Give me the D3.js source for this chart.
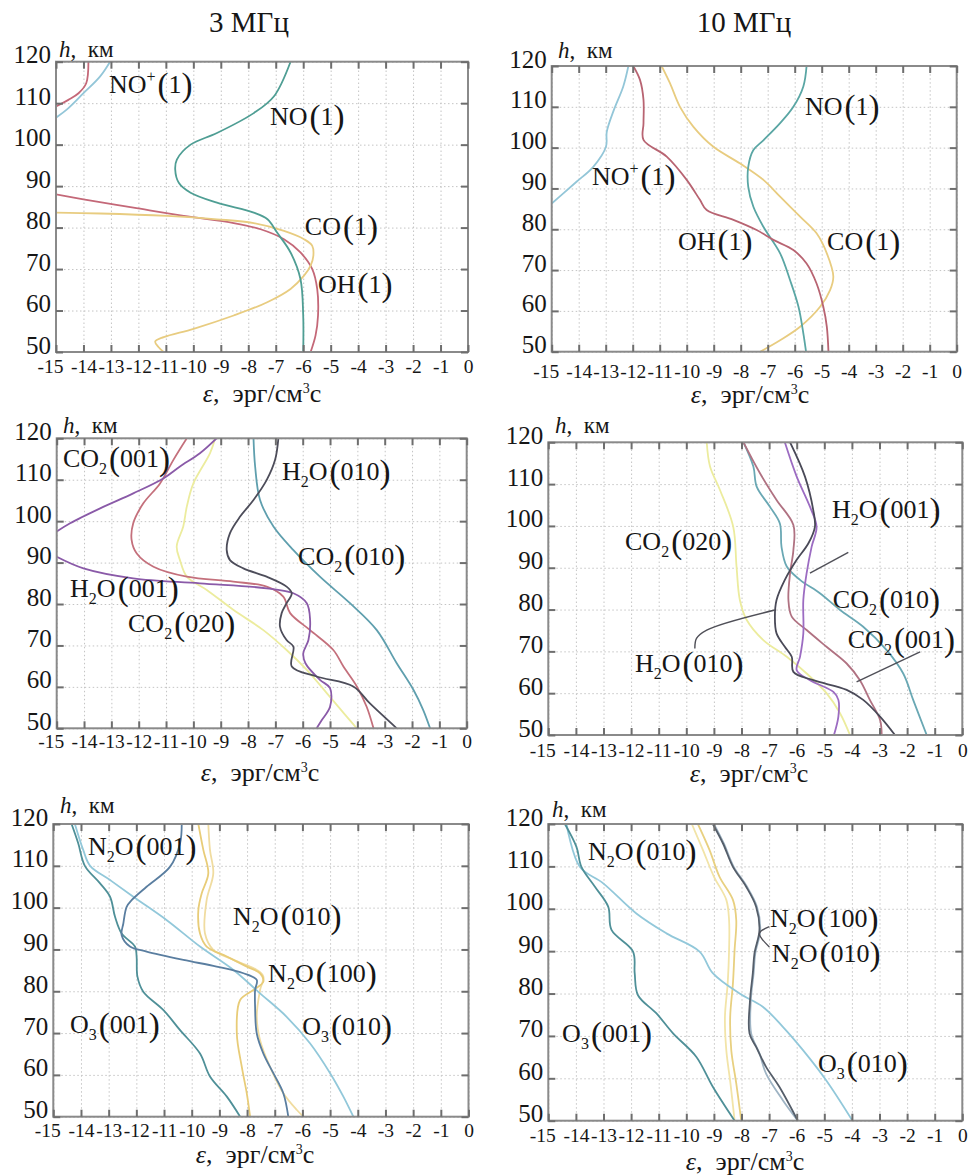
<!DOCTYPE html>
<html><head><meta charset="utf-8">
<script src="https://cdn.jsdelivr.net/npm/d3@7"></script>
<style>
body{margin:0;background:#fff}
svg text{font-family:"Liberation Serif","Times New Roman",serif;fill:#161616}
</style>
</head><body>
<svg id="c" width="972" height="1176"></svg>
<script>
// ---------- tick labels / titles ----------
const xTickValues = [-15,-14,-13,-12,-11,-10,-9,-8,-7,-6,-5,-4,-3,-2,-1,0];
const yTickValues = [50,60,70,80,90,100,110,120];
const columnTitles = ["3 МГц", "10 МГц"];

// ---------- panel 1 : 3 MHz, NO/OH/CO ----------  [epsilon, h]
const p1_NOplus = [[-13.03,120],[-13.4,116.4],[-14.0,112.4],[-14.6,108.5],[-15,106.5]];
const p1_NO = [[-6.46,120],[-7.07,111.6],[-7.8,107.6],[-9.14,102.8],[-10.1,100],[-10.6,96.4],[-10.66,94],[-10.53,90.8],[-10.1,88.4],[-9.14,86],[-7.8,83.6],[-7.3,82],[-6.95,78.8],[-6.46,74],[-6.1,67.6],[-6.0,58.8],[-6.0,50]];
const p1_OH = [[-13.82,120],[-13.9,114.8],[-14.18,112.4],[-14.55,110.8],[-15,109.2],null,
  [-15,88],[-14,86.8],[-12.18,84.8],[-10.35,82.8],[-8.53,81.1],[-7.55,79.6],[-6.7,77.2],[-6.1,74],[-5.67,70],[-5.49,65.2],[-5.46,58.8],[-5.55,54],[-5.73,50]];
const p1_CO = [[-15,83.6],[-13.39,83.4],[-10.96,82.8],[-9.14,82],[-7.8,81.1],[-6.7,79.2],[-5.97,77.2],[-5.67,75.6],[-5.63,73.2],[-5.73,70.8],[-5.97,68.4],[-6.46,65.2],[-7.31,62],[-8.53,58.8],[-9.99,55.6],[-11.08,53.6],[-11.39,52.5],[-11.27,51.2],[-11.08,50]];

// ---------- panel 2 : 10 MHz, NO/OH/CO ----------
const p2_NO = [[-5.56,120],[-5.68,115],[-6.05,110],[-6.54,106],[-7.16,101.8],[-7.53,99.4],[-7.72,95.3],[-7.72,90.4],[-7.53,85.5],[-7.16,80.6],[-6.54,74.1],[-6.17,67.5],[-5.86,61],[-5.68,54.5],[-5.58,50]];
const p2_NOplus = [[-12.16,120],[-12.35,115],[-12.7,109.2],[-12.96,103.9],[-12.99,100.2],[-13.46,95.3],[-14.07,91.7],[-14.57,88.8],[-15,86.3]];
const p2_OH = [[-11.98,120],[-11.73,116.6],[-11.6,111.7],[-11.6,106],[-11.6,101.9],[-10.74,97.8],[-10.0,92.1],[-9.51,87.2],[-9.26,84.7],[-8.27,82.3],[-7.41,79.8],[-6.79,77.4],[-6.05,74.9],[-5.56,71.6],[-5.19,66.7],[-4.94,61],[-4.81,56.1],[-4.75,50]];
const p2_CO = [[-10.93,120],[-10.62,115.8],[-10.25,110],[-9.75,105.1],[-9.01,100.2],[-8.02,96.1],[-7.16,92.1],[-6.54,88],[-5.8,83.1],[-5.19,79],[-4.81,74.1],[-4.57,68.4],[-4.69,65.1],[-5.06,61],[-5.8,56.1],[-6.54,52.8],[-7.28,50]];

// ---------- panel 3 : 3 MHz, CO2/H2O ----------
const p3_CO2_001 = [[-9.15,120],[-9.76,116.4],[-10.49,113.2],[-11.1,110.3],[-12.2,106.7],[-13.41,103.1],[-14.51,99.5],[-15,97.5],null,
  [-15,91.4],[-14.02,88.6],[-12.2,86.2],[-9.76,85],[-7.32,83.8],[-6.34,82.6],[-5.85,80.2],[-5.73,76.2],[-5.79,71.3],[-5.98,68.1],[-5.9,65.7],[-5.37,61.7],[-5.0,59.7],[-5.0,55.2],[-5.3,52],[-5.49,50]];
const p3_H2O_001 = [[-10.24,120],[-10.73,114.8],[-11.22,109.1],[-11.83,104.3],[-12.2,99.5],[-12.26,95.5],[-12.07,92.2],[-11.46,89],[-10.24,86.6],[-8.54,85.4],[-7.32,84.2],[-6.71,81.8],[-6.46,77.8],[-5.73,73.7],[-4.88,68.9],[-4.51,64.9],[-4.02,60.1],[-3.66,55.2],[-3.41,50]];
const p3_CO2_020 = [[-9.2,120],[-9.39,116.4],[-10.0,109.1],[-10.24,103.5],[-10.37,98.7],[-10.61,93.9],[-10.49,90.6],[-10.24,86.6],[-9.51,83.4],[-8.54,78.6],[-7.44,73.7],[-6.59,68.9],[-5.85,64.1],[-5.12,58.5],[-4.39,52.8],[-4.02,50]];
const p3_H2O_010 = [[-6.89,120],[-7.01,114.8],[-7.32,109.9],[-7.8,105.1],[-8.29,101.1],[-8.66,97.1],[-8.78,93],[-8.66,90.6],[-8.17,88.6],[-7.32,86.6],[-6.59,84.2],[-6.4,82.6],[-6.59,80.2],[-6.77,77.8],[-6.83,74.5],[-6.59,71.3],[-6.34,69.7],[-6.4,64.9],[-5.49,62.5],[-4.15,60.1],[-3.54,56],[-2.56,50]];
const p3_CO2_010 = [[-7.8,120],[-7.74,113.2],[-7.56,105.1],[-7.07,98.7],[-6.34,93],[-5.37,86.6],[-4.27,80.2],[-3.29,73.7],[-2.56,65.7],[-1.95,59.3],[-1.59,54.4],[-1.34,50]];

// ---------- panel 4 : 10 MHz, CO2/H2O ----------
const p4_CO2_020 = [[-9.26,120],[-9.14,114.2],[-8.78,108.6],[-8.3,99.8],[-8.18,90.3],[-8.06,82.3],[-7.81,77.5],[-7.21,72.7],[-6.36,68.7],[-5.64,64.7],[-4.92,60],[-4.43,55.2],[-4.07,50]];
const p4_CO2_010 = [[-7.93,120],[-7.57,114.2],[-7.45,109.4],[-6.97,104.6],[-6.61,100.6],[-6.55,95],[-6.36,90.3],[-5.88,87.1],[-5.16,83.9],[-4.43,79.9],[-3.59,75.9],[-2.74,70.3],[-2.14,64.7],[-1.78,58.4],[-1.29,50]];
const p4_CO2_001 = [[-7.93,120],[-7.33,112.6],[-6.73,106.2],[-6.12,100.2],[-6.12,94.2],[-6.24,88.7],[-6.3,82.3],[-6.18,78.3],[-5.64,75.1],[-4.92,71.1],[-4.19,67.1],[-3.71,63.1],[-3.35,58.4],[-2.98,53.6],[-2.92,50]];
const p4_H2O_001 = [[-6.43,120],[-6.0,111.8],[-5.52,104.6],[-5.28,99.8],[-5.46,95],[-5.64,88.7],[-5.76,82.3],[-5.76,74.3],[-5.88,68.7],[-6.0,65.5],[-5.52,63.1],[-4.67,60.3],[-4.49,58.4],[-4.49,54.4],[-4.65,50]];
const p4_H2O_010 = [[-6.24,120],[-5.7,111.8],[-5.4,103.8],[-5.34,99.8],[-5.58,95.8],[-6.0,91.9],[-6.43,87.1],[-6.73,82.3],[-6.79,78.3],[-6.73,74.3],[-6.43,71.1],[-6.18,68.7],[-6.12,65.1],[-5.4,63.1],[-4.19,60.8],[-3.59,58.4],[-2.98,54.4],[-2.44,50]];
const p4_lead_H2O_001 = [[-4.13,93.7],[-5.52,88.7]];
const p4_lead_H2O_010 = [[-9.69,70.7],[-9.63,73.1],[-9.26,75.1],[-6.79,79.9]];
const p4_lead_CO2_001 = [[-1.53,69.9],[-3.83,62.7]];

// ---------- panel 5 : 3 MHz, N2O/O3 ----------
const p5_O3_001 = [[-14.34,120],[-14.1,115.4],[-13.86,110],[-13.31,105.8],[-12.95,102.6],[-12.77,97.8],[-12.53,93.8],[-12.05,90.7],[-11.99,88.3],[-11.96,83.5],[-11.75,79.9],[-11.02,75.5],[-10.42,70.7],[-9.7,65.1],[-9.34,59.6],[-8.73,54.8],[-8.25,50]];
const p5_O3_010 = [[-14.22,120],[-13.92,113.8],[-13.67,110],[-12.95,106.6],[-12.11,102.6],[-10.9,97],[-9.7,90.7],[-8.49,85.1],[-7.53,79.5],[-6.57,73.9],[-5.72,67.5],[-5.0,60.4],[-4.52,54.8],[-4.16,50]];
const p5_N2O_001 = [[-10.36,120],[-10.42,115.4],[-10.78,109.8],[-11.63,105],[-12.17,101.8],[-12.35,100.2],[-12.47,96.2],[-12.53,93.4],[-12.23,90.7],[-11.63,89.5],[-10.3,87.5],[-9.1,85.9],[-8.13,84.3],[-7.65,82.7],[-7.71,80.3],[-7.71,76.3],[-7.65,69.9],[-7.41,65.1],[-7.05,60.4],[-6.69,55.6],[-6.51,50]];
const p5_N2O_010 = [[-9.76,120],[-9.58,113.8],[-9.4,108.2],[-9.64,103.4],[-9.76,99.4],[-9.7,93.8],[-9.46,90.7],[-8.73,88.3],[-8.01,85.9],[-7.53,84.3],[-7.41,82.3],[-7.77,80.3],[-8.25,77.9],[-8.37,69.9],[-8.19,61.9],[-8.01,55.6],[-7.89,50]];
const p5_N2O_100 = [[-9.4,120],[-9.34,113.8],[-9.22,108.2],[-9.46,101.8],[-9.52,93.8],[-9.22,89.9],[-8.49,87.5],[-7.65,85.1],[-7.41,83.5],[-7.53,80.3],[-7.65,73.9],[-7.53,68.3],[-7.17,61.9],[-6.69,55.6],[-6.2,51.6],[-5.96,50]];

// ---------- panel 6 : 10 MHz, N2O/O3 ----------
const p6_O3_001 = [[-14.4,120],[-13.98,114.6],[-13.8,109.9],[-13.31,105.2],[-12.83,100.5],[-12.71,95],[-11.93,89.9],[-11.87,84.8],[-11.75,79.6],[-11.08,75.3],[-10.48,70.6],[-9.64,65.1],[-9.04,58],[-8.25,50]];
const p6_O3_010 = [[-14.34,120],[-13.86,109.9],[-13.01,106],[-11.81,98.9],[-10.72,94.2],[-9.52,89.9],[-9.04,84.8],[-8.07,80],[-7.23,76.9],[-6.51,72.2],[-5.78,66.7],[-4.94,59.6],[-3.98,50]];
const p6_N2O_100 = [[-9.04,120],[-8.67,115.4],[-8.31,109.9],[-7.83,105.2],[-7.47,100.5],[-7.35,95],[-7.53,89.5],[-7.59,84.8],[-7.69,78.5],[-7.71,70.6],[-7.47,67.4],[-7.11,62.7],[-6.63,58],[-5.96,50]];
const p6_N2O_010 = [[-9.0,120],[-8.64,115.4],[-8.28,109.9],[-7.8,105.2],[-7.44,100.5],[-7.32,95],[-7.5,89.5],[-7.56,84.8],[-7.66,78.5],[-7.65,70.6],[-7.35,65.9],[-7.11,61.1],[-6.51,54.9],[-5.96,50]];
const p6_N2O_001 = [[-9.58,120],[-9.16,113.9],[-8.8,107.6],[-8.31,102.1],[-8.19,97.3],[-8.25,90.3],[-8.31,82.4],[-8.41,74.5],[-8.37,66.6],[-8.19,58.8],[-8.01,50]];
const p6_N2O_001b = [[-9.8,120],[-9.4,113.9],[-9.0,107.6],[-8.55,102.1],[-8.45,97.3],[-8.45,90.3],[-8.5,82.4],[-8.6,74.5],[-8.55,66.6],[-8.4,58.8],[-8.25,50]];
const p6_lead = [[-6.99,95.8],[-7.35,94.2],[-6.99,91]];

// ---------- curve labels: text, epsilon (left edge), h (baseline) ----------
const p1_labels = [["NO^+(1)",-13.07,112.5],["NO(1)",-7.21,104.7],["CO(1)",-5.94,78.2],["OH(1)",-5.46,64.2]];
const p2_labels = [["NO(1)",-5.62,108],["NO^+(1)",-13.51,90.8],["OH(1)",-10.32,74.9],["CO(1)",-4.8,74.9]];
const p3_labels = [["CO_2(001)",-14.77,113.1],["H_2O(010)",-6.76,109.9],["CO_2(010)",-6.17,89.4],["H_2O(001)",-14.51,81.7],["CO_2(020)",-12.39,73.2]];
const p4_labels = [["H_2O(001)",-4.72,101.9],["CO_2(020)",-12.22,94.2],["CO_2(010)",-4.69,80.4],["CO_2(001)",-4.15,70.8],["H_2O(010)",-11.86,65.1]];
const p5_labels = [["N_2O(001)",-13.75,112.6],["N_2O(010)",-8.51,95.8],["N_2O(100)",-7.24,82.2],["O_3(001)",-14.4,70],["O_3(010)",-6.01,69.5]];
const p6_labels = [["N_2O(010)",-13.56,111.5],["N_2O(100)",-6.97,95.7],["N_2O(010)",-6.9,87.5],["O_3(001)",-14.5,68.6],["O_3(010)",-5.23,61.5]];

// ---------- layout & styles ----------
const layouts = [
  {x0:56,   x1:468,   y0:61.7,  y1:352,    tickDy:21, xtCx:262, xtY:402,  hX:59,  hY:57},
  {x0:551.7,x1:956.7, y0:66,    y1:351.7,  tickDy:26, xtCx:750, xtY:403,  hX:558, hY:58},
  {x0:56.7, x1:466.7, y0:438.3, y1:728.3,  tickDy:20, xtCx:260, xtY:781,  hX:63,  hY:433},
  {x0:548.3,x1:962.3, y0:442.3, y1:735,    tickDy:22, xtCx:749, xtY:782,  hX:555, hY:433},
  {x0:53.3, x1:468.5, y0:824,   y1:1116.7, tickDy:20, xtCx:255, xtY:1163, hX:60,  hY:813},
  {x0:548.3,x1:962.3, y0:824,   y1:1120.7, tickDy:21, xtCx:745, xtY:1170, hX:552, hY:817}
];
const panels = [
  {series:[{d:p1_NOplus,c:"#93c6d8"},{d:p1_OH,c:"#c46878"},{d:p1_CO,c:"#e8cc80"},{d:p1_NO,c:"#4f9e94"}], labels:p1_labels, leaders:[]},
  {series:[{d:p2_NOplus,c:"#93c6d8"},{d:p2_CO,c:"#e8cc80"},{d:p2_NO,c:"#5aa6a4"},{d:p2_OH,c:"#b86472"}], labels:p2_labels, leaders:[]},
  {series:[{d:p3_CO2_020,c:"#ecec9e"},{d:p3_CO2_010,c:"#5f9fae"},{d:p3_H2O_001,c:"#c4707c"},{d:p3_CO2_001,c:"#8a5aa8"},{d:p3_H2O_010,c:"#4d4d5a"}], labels:p3_labels, leaders:[]},
  {series:[{d:p4_CO2_020,c:"#ecec9e"},{d:p4_CO2_010,c:"#6aa8b4"},{d:p4_CO2_001,c:"#b07282"},{d:p4_H2O_001,c:"#9c6cc2"},{d:p4_H2O_010,c:"#4a4a58"}], labels:p4_labels, leaders:[p4_lead_H2O_001,p4_lead_H2O_010,p4_lead_CO2_001]},
  {series:[{d:p5_N2O_100,c:"#f0dca0"},{d:p5_N2O_010,c:"#e8cc78"},{d:p5_O3_010,c:"#92c8da"},{d:p5_O3_001,c:"#4f9098"},{d:p5_N2O_001,c:"#5a7ea0"}], labels:p5_labels, leaders:[]},
  {series:[{d:p6_N2O_001b,c:"#f2e4a8"},{d:p6_N2O_001,c:"#e8d080"},{d:p6_O3_010,c:"#92c8da"},{d:p6_O3_001,c:"#4f9098"},{d:p6_N2O_010,c:"#9fb4c4"},{d:p6_N2O_100,c:"#555e6a"}], labels:p6_labels, leaders:[p6_lead]}
];

const svg = d3.select("#c");

// column titles
columnTitles.forEach((t,i)=>{
  svg.append("text").attr("x",[249,744][i]).attr("y",32).attr("text-anchor","middle")
    .attr("font-size",29).text(t);
});

function drawLabel(g, str, px, py){
  const size = 26;
  const t = g.append("text").attr("x",px).attr("y",py).attr("font-size",size);
  const segs = [];
  for(let i=0;i<str.length;i++){
    const ch = str[i];
    if(ch==="_"){ segs.push({s:str[++i],k:"sub"}); }
    else if(ch==="^"){ segs.push({s:str[++i],k:"sup"}); }
    else if(ch==="("||ch===")"){ segs.push({s:ch,k:"par"}); }
    else {
      if(segs.length && segs[segs.length-1].k==="n") segs[segs.length-1].s += ch;
      else segs.push({s:ch,k:"n"});
    }
  }
  let cur = 0;
  segs.forEach(sg=>{
    const target = sg.k==="sub"?7: sg.k==="sup"?-11: sg.k==="par"?3:0;
    const ts = t.append("tspan").text(sg.s);
    if(target-cur) ts.attr("dy", target-cur);
    cur = target;
    if(sg.k==="sub"||sg.k==="sup") ts.attr("font-size",16);
    if(sg.k==="par"){ ts.attr("font-size",33); if(sg.s==="(") ts.attr("dx",2); }
  });
}

panels.forEach((P,i)=>{
  const L = layouts[i];
  const x = d3.scaleLinear().domain([-15,0]).range([L.x0,L.x1]);
  const y = d3.scaleLinear().domain([50,120]).range([L.y1,L.y0]);
  const g = svg.append("g");
  const H = L.y1-L.y0, W = L.x1-L.x0;

  // grid
  g.append("g").attr("transform",`translate(0,${L.y1})`)
    .call(d3.axisBottom(x).tickValues(xTickValues).tickSize(-H).tickFormat(""))
    .call(a=>{a.select(".domain").remove();
      a.selectAll("line").attr("stroke","#c4c4c4").attr("stroke-width",1).attr("stroke-dasharray","1.5,2.5");});
  g.append("g").attr("transform",`translate(${L.x0},0)`)
    .call(d3.axisLeft(y).tickValues(yTickValues).tickSize(-W).tickFormat(""))
    .call(a=>{a.select(".domain").remove();
      a.selectAll("line").attr("stroke","#c4c4c4").attr("stroke-width",1).attr("stroke-dasharray","1.5,2.5");});

  // curves
  const clipId = "clip"+i;
  g.append("clipPath").attr("id",clipId).append("rect")
    .attr("x",L.x0).attr("y",L.y0).attr("width",W).attr("height",H);
  const line = d3.line().defined(d=>d!==null).x(d=>x(d[0])).y(d=>y(d[1]))
    .curve(d3.curveCatmullRom.alpha(0.5));
  const cg = g.append("g").attr("clip-path",`url(#${clipId})`);
  P.series.forEach(s=>{
    cg.append("path").attr("d",line(s.d)).attr("fill","none")
      .attr("stroke",s.c).attr("stroke-width",1.8).attr("stroke-linejoin","round");
  });
  const lline = d3.line().x(d=>x(d[0])).y(d=>y(d[1])).curve(d3.curveCatmullRom.alpha(0.5));
  P.leaders.forEach(ld=>{
    g.append("path").attr("d",lline(ld)).attr("fill","none").attr("stroke","#505058").attr("stroke-width",1.4);
  });

  // frame
  g.append("rect").attr("x",L.x0).attr("y",L.y0).attr("width",W).attr("height",H)
    .attr("fill","none").attr("stroke","#8a8a8a").attr("stroke-width",2);

  // ticks
  const styleTicks = a=>{a.select(".domain").remove();
    a.selectAll("line").attr("stroke","#6e6e6e").attr("stroke-width",2);};
  g.append("g").attr("transform",`translate(0,${L.y1})`)
    .call(d3.axisBottom(x).tickValues(xTickValues).tickSize(-7).tickFormat(d=>String(d)))
    .call(styleTicks)
    .call(a=>a.selectAll("text").attr("y",L.tickDy).attr("dy",null).attr("font-size",19.5)
      .attr("fill","#161616").attr("dx",d=>d===-15?-6:null));
  g.append("g").attr("transform",`translate(0,${L.y0})`)
    .call(d3.axisTop(x).tickValues(xTickValues).tickSize(-7).tickFormat(""))
    .call(styleTicks);
  g.append("g").attr("transform",`translate(${L.x0},0)`)
    .call(d3.axisLeft(y).tickValues(yTickValues).tickSize(-7).tickFormat(d=>String(d)))
    .call(styleTicks)
    .call(a=>a.selectAll("text").attr("x",-5).attr("dy",null).attr("y",1).attr("font-size",25)
      .attr("fill","#161616"));
  g.append("g").attr("transform",`translate(${L.x1},0)`)
    .call(d3.axisRight(y).tickValues(yTickValues).tickSize(-7).tickFormat(""))
    .call(styleTicks);

  // axis titles
  const ht = g.append("text").attr("x",L.hX).attr("y",L.hY).attr("font-size",23);
  ht.append("tspan").attr("font-style","italic").text("h");
  ht.append("tspan").text(",\u00a0\u00a0км");
  const xt = g.append("text").attr("x",L.xtCx).attr("y",L.xtY).attr("font-size",26).attr("text-anchor","middle");
  xt.append("tspan").attr("font-style","italic").text("ε");
  xt.append("tspan").text(",\u00a0\u00a0эрг/см");
  xt.append("tspan").attr("font-size",14).attr("dy",-9).text("3");
  xt.append("tspan").attr("dy",9).text("с");

  // curve labels
  P.labels.forEach(lb=>drawLabel(g, lb[0], x(lb[1]), y(lb[2])));
});
</script>
</body></html>
